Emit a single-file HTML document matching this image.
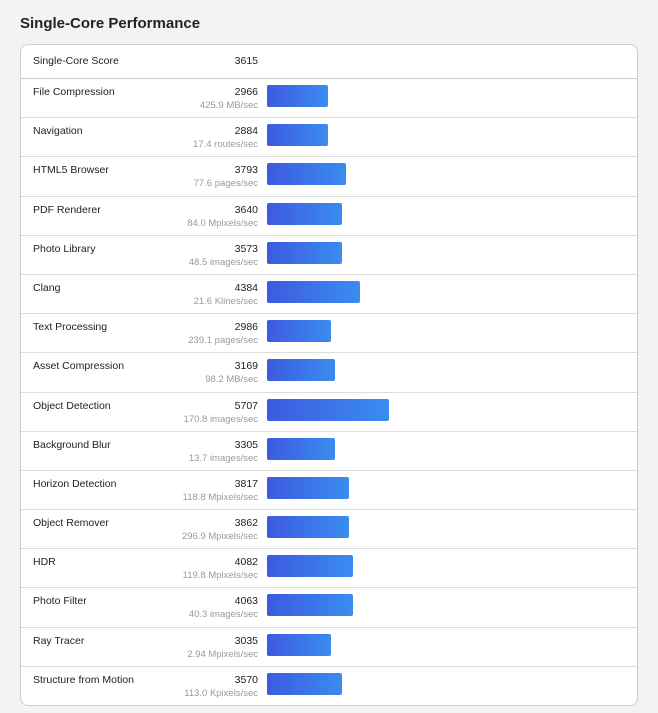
<!DOCTYPE html><html><head><style>
body{margin:0;background:#f3f3f3;font-family:"Liberation Sans",sans-serif;width:658px;height:713px;overflow:hidden;position:relative}
h1{position:absolute;left:20px;top:15px;margin:0;font-size:15px;font-weight:bold;color:#222}
.card{position:absolute;left:20px;top:44px;width:616px;height:660px;background:#fff;border:1px solid #ccc;border-radius:8px;overflow:hidden}
.hdr{height:33px;border-bottom:1px solid #ccc;position:relative}
.row{height:38.2px;border-bottom:1px solid #ddd;position:relative}
.row:last-child{border-bottom:none}
.n{position:absolute;left:12px;top:7px;font-size:10.5px;color:#222}
.s{position:absolute;right:379px;top:7px;font-size:10.5px;color:#222}
.u{position:absolute;right:379px;top:21px;font-size:9.5px;color:#999}
.b{position:absolute;left:246px;top:6px;height:22px;border-radius:2px;background:linear-gradient(90deg,#3d5ae0,#3a8cf0)}
.hdr .n,.hdr .s{top:10px}
</style></head><body>
<h1>Single-Core Performance</h1>
<div class="card">
<div class="hdr"><span class="n">Single-Core Score</span><span class="s">3615</span></div>
<div class="row"><span class="n">File Compression</span><span class="s">2966</span><span class="u">425.9 MB/sec</span><div class="b" style="width:61px"></div></div>
<div class="row"><span class="n">Navigation</span><span class="s">2884</span><span class="u">17.4 routes/sec</span><div class="b" style="width:61px"></div></div>
<div class="row"><span class="n">HTML5 Browser</span><span class="s">3793</span><span class="u">77.6 pages/sec</span><div class="b" style="width:79px"></div></div>
<div class="row"><span class="n">PDF Renderer</span><span class="s">3640</span><span class="u">84.0 Mpixels/sec</span><div class="b" style="width:75px"></div></div>
<div class="row"><span class="n">Photo Library</span><span class="s">3573</span><span class="u">48.5 images/sec</span><div class="b" style="width:75px"></div></div>
<div class="row"><span class="n">Clang</span><span class="s">4384</span><span class="u">21.6 Klines/sec</span><div class="b" style="width:93px"></div></div>
<div class="row"><span class="n">Text Processing</span><span class="s">2986</span><span class="u">239.1 pages/sec</span><div class="b" style="width:64px"></div></div>
<div class="row"><span class="n">Asset Compression</span><span class="s">3169</span><span class="u">98.2 MB/sec</span><div class="b" style="width:68px"></div></div>
<div class="row"><span class="n">Object Detection</span><span class="s">5707</span><span class="u">170.8 images/sec</span><div class="b" style="width:122px"></div></div>
<div class="row"><span class="n">Background Blur</span><span class="s">3305</span><span class="u">13.7 images/sec</span><div class="b" style="width:68px"></div></div>
<div class="row"><span class="n">Horizon Detection</span><span class="s">3817</span><span class="u">118.8 Mpixels/sec</span><div class="b" style="width:82px"></div></div>
<div class="row"><span class="n">Object Remover</span><span class="s">3862</span><span class="u">296.9 Mpixels/sec</span><div class="b" style="width:82px"></div></div>
<div class="row"><span class="n">HDR</span><span class="s">4082</span><span class="u">119.8 Mpixels/sec</span><div class="b" style="width:86px"></div></div>
<div class="row"><span class="n">Photo Filter</span><span class="s">4063</span><span class="u">40.3 images/sec</span><div class="b" style="width:86px"></div></div>
<div class="row"><span class="n">Ray Tracer</span><span class="s">3035</span><span class="u">2.94 Mpixels/sec</span><div class="b" style="width:64px"></div></div>
<div class="row"><span class="n">Structure from Motion</span><span class="s">3570</span><span class="u">113.0 Kpixels/sec</span><div class="b" style="width:75px"></div></div>
</div>
</body></html>
